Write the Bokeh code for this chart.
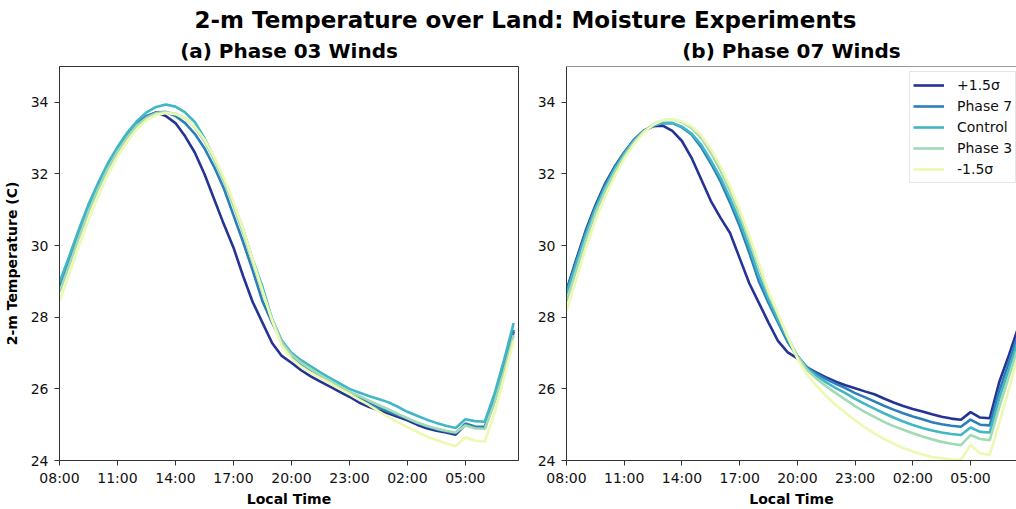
from bokeh.plotting import figure
from bokeh.layouts import column, row
from bokeh.models import Range1d, FixedTicker, Label, Legend, LegendItem, Span, Title
from bokeh.embed import file_html
from bokeh.resources import INLINE

FONT = "DejaVu Sans"

# time axis: hours since 08:00 local, half-hourly
hours = [i * 0.5 for i in range(48)]
tick_hours = [0, 3, 6, 9, 12, 15, 18, 21]
tick_labels = ["08:00", "11:00", "14:00", "17:00", "20:00", "23:00", "02:00", "05:00"]
y_ticks = [24, 26, 28, 30, 32, 34]

series_names = ["+1.5σ", "Phase 7", "Control", "Phase 3", "-1.5σ"]
colors = ["#253494", "#2c7fb8", "#41b6c4", "#a1dab4", "#edf8b1"]

# (a) Phase 03 winds
a_plus15 = [28.80, 29.55, 30.30, 31.00, 31.62, 32.18, 32.65, 33.05, 33.38, 33.60,
            33.72, 33.62, 33.42, 33.05, 32.60, 32.00, 31.30, 30.60, 29.95, 29.15,
            28.42, 27.85, 27.28, 26.92, 26.73, 26.52, 26.35, 26.20, 26.06, 25.92,
            25.78, 25.62, 25.50, 25.40, 25.32, 25.22, 25.12, 25.00, 24.90, 24.83,
            24.78, 24.72, 25.00, 24.92, 24.90, 25.65, 26.60, 27.60]
a_phase7 = [28.85, 29.62, 30.38, 31.08, 31.70, 32.25, 32.72, 33.10, 33.42, 33.62,
            33.72, 33.73, 33.62, 33.42, 33.12, 32.72, 32.20, 31.60, 30.85, 30.10,
            29.30, 28.45, 27.85, 27.30, 26.92, 26.70, 26.52, 26.36, 26.20, 26.04,
            25.90, 25.75, 25.60, 25.48, 25.37, 25.27, 25.17, 25.05, 24.95, 24.87,
            24.81, 24.76, 25.03, 24.95, 24.94, 25.70, 26.65, 27.65]
a_control = [28.97, 29.70, 30.45, 31.15, 31.75, 32.30, 32.75, 33.15, 33.47, 33.72,
             33.87, 33.94, 33.88, 33.72, 33.45, 33.00, 32.45, 31.85, 31.18, 30.45,
             29.60, 28.85, 27.95, 27.35, 27.01, 26.80, 26.63, 26.46, 26.30, 26.15,
             26.00, 25.90, 25.80, 25.72, 25.63, 25.50, 25.36, 25.25, 25.14, 25.05,
             24.97, 24.91, 25.15, 25.10, 25.08, 25.85, 26.80, 27.84]
a_phase3 = [28.70, 29.45, 30.22, 30.95, 31.58, 32.15, 32.62, 33.02, 33.35, 33.57,
            33.70, 33.73, 33.68, 33.55, 33.30, 32.92, 32.40, 31.80, 31.12, 30.35,
            29.52, 28.70, 27.95, 27.30, 26.95, 26.73, 26.55, 26.38, 26.22, 26.07,
            25.92, 25.80, 25.68, 25.55, 25.43, 25.30, 25.18, 25.06, 24.97, 24.89,
            24.83, 24.78, 24.98, 24.90, 24.88, 25.60, 26.50, 27.50]
a_minus15 = [28.45, 29.20, 29.98, 30.72, 31.38, 31.97, 32.48, 32.90, 33.25, 33.50,
             33.65, 33.70, 33.67, 33.55, 33.32, 32.97, 32.48, 31.90, 31.22, 30.45,
             29.60, 28.75, 27.90, 27.20, 26.85, 26.62, 26.45, 26.30, 26.15, 26.00,
             25.85, 25.70, 25.55, 25.38, 25.22, 25.07, 24.93, 24.80, 24.67, 24.57,
             24.48, 24.40, 24.65, 24.55, 24.53, 25.30, 26.30, 27.35]

# (b) Phase 07 winds
b_plus15 = [28.75, 29.60, 30.42, 31.12, 31.72, 32.20, 32.60, 32.95, 33.20, 33.33,
            33.35, 33.20, 32.92, 32.45, 31.85, 31.25, 30.78, 30.35, 29.65, 28.95,
            28.40, 27.85, 27.33, 27.02, 26.85, 26.60, 26.45, 26.32, 26.20, 26.10,
            26.02, 25.93, 25.85, 25.73, 25.62, 25.52, 25.44, 25.37, 25.29, 25.22,
            25.17, 25.14, 25.35, 25.20, 25.18, 26.20, 26.95, 27.75]
b_phase7 = [28.72, 29.55, 30.38, 31.08, 31.68, 32.18, 32.60, 32.95, 33.20, 33.35,
            33.42, 33.42, 33.30, 33.10, 32.75, 32.30, 31.80, 31.20, 30.55, 29.80,
            29.00, 28.40, 27.85, 27.30, 26.92, 26.60, 26.42, 26.27, 26.14, 26.02,
            25.88, 25.77, 25.65, 25.53, 25.42, 25.32, 25.23, 25.15, 25.07, 25.01,
            24.97, 24.94, 25.14, 25.00, 24.98, 25.95, 26.75, 27.55]
b_control = [28.65, 29.48, 30.30, 31.02, 31.62, 32.13, 32.56, 32.92, 33.18, 33.35,
             33.42, 33.42, 33.32, 33.13, 32.82, 32.38, 31.90, 31.32, 30.68, 29.95,
             29.15, 28.50, 27.92, 27.38, 26.92, 26.57, 26.36, 26.18, 26.02, 25.88,
             25.72, 25.58, 25.45, 25.32, 25.20, 25.09, 24.99, 24.91, 24.84, 24.78,
             24.74, 24.71, 24.92, 24.80, 24.78, 25.75, 26.55, 27.40]
b_phase3 = [28.45, 29.30, 30.15, 30.90, 31.52, 32.05, 32.50, 32.88, 33.18, 33.38,
            33.50, 33.52, 33.45, 33.28, 33.00, 32.60, 32.10, 31.52, 30.88, 30.15,
            29.40, 28.65, 28.05, 27.45, 26.92, 26.53, 26.28, 26.07, 25.88, 25.70,
            25.52, 25.36, 25.22, 25.08, 24.96, 24.86, 24.76, 24.67, 24.59, 24.52,
            24.47, 24.43, 24.71, 24.60, 24.57, 25.50, 26.35, 27.20]
b_minus15 = [28.18, 29.05, 29.92, 30.70, 31.36, 31.93, 32.42, 32.83, 33.15, 33.37,
             33.50, 33.52, 33.47, 33.33, 33.08, 32.70, 32.22, 31.65, 31.00, 30.28,
             29.50, 28.72, 28.10, 27.45, 26.85, 26.40, 26.08, 25.80, 25.55, 25.33,
             25.12, 24.93, 24.76, 24.60, 24.47, 24.35, 24.25, 24.17, 24.10, 24.06,
             24.03, 24.02, 24.43, 24.20, 24.16, 25.05, 26.00, 27.00]

panel_a = [a_plus15, a_phase7, a_control, a_phase3, a_minus15]
panel_b = [b_plus15, b_phase7, b_control, b_phase3, b_minus15]


def style(p, ylabel):
    p.xgrid.visible = False
    p.ygrid.visible = False
    p.xaxis.ticker = FixedTicker(ticks=tick_hours)
    p.xaxis.major_label_overrides = {h: lab for h, lab in zip(tick_hours, tick_labels)}
    p.yaxis.ticker = FixedTicker(ticks=y_ticks)
    p.xaxis.axis_label = "Local Time"
    if ylabel:
        p.yaxis.axis_label = ylabel
    for ax in (p.xaxis[0], p.yaxis[0]):
        ax.axis_line_color = "#333333"
        ax.major_tick_line_color = "#333333"
        ax.major_tick_out = 5
        ax.major_tick_in = 0
        ax.minor_tick_line_color = None
        ax.major_label_text_font = FONT
        ax.major_label_text_font_size = "14px"
        ax.major_label_text_color = "#111111"
        ax.axis_label_text_font = FONT
        ax.axis_label_text_font_size = "14px"
        ax.axis_label_text_font_style = "bold"
        ax.axis_label_text_color = "#000000"
    p.xaxis.major_label_standoff = 4
    p.xaxis.axis_label_standoff = 2
    p.yaxis.major_label_standoff = 6
    p.yaxis.axis_label_standoff = 8


def make_title(text, offset):
    return Title(text=text, align="center", text_font=FONT, text_font_size="20px",
                 text_font_style="bold", text_color="#000000", standoff=7, offset=offset)


# suptitle strip
p0 = figure(width=1016, height=33, x_range=Range1d(0, 1016), y_range=Range1d(0, 33),
            toolbar_location=None, output_backend="svg", min_border=0,
            x_axis_location=None, y_axis_location=None, title=None)
p0.outline_line_color = None
p0.xgrid.visible = False
p0.ygrid.visible = False
p0.add_layout(Label(x=525, y=13.5, text="2-m Temperature over Land: Moisture Experiments",
                    text_align="center", text_baseline="middle", text_font=FONT,
                    text_font_size="23px", text_font_style="bold", text_color="#000000"))

# panel (a)
p1 = figure(width=534, height=476, x_range=Range1d(0, 23.75), y_range=Range1d(24, 35),
            toolbar_location=None, output_backend="svg",
            title=make_title("(a) Phase 03 Winds", 0),
            min_border_left=59, min_border_right=16, min_border_top=33, min_border_bottom=45)
p1.outline_line_color = "#333333"
p1.outline_line_width = 1
style(p1, "2-m Temperature (C)")
for vals, col in zip(panel_a, colors):
    p1.line(hours, vals, line_color=col, line_width=2.6)

# panel (b)
p2 = figure(width=482, height=476, x_range=Range1d(0, 23.39), y_range=Range1d(24, 35),
            toolbar_location=None, output_backend="svg",
            title=make_title("(b) Phase 07 Winds", 4),
            min_border_left=30, min_border_right=0, min_border_top=33, min_border_bottom=45)
p2.outline_line_color = None
style(p2, None)
p2.add_layout(Span(location=35, dimension="width", line_color="#333333", line_width=1))
renderers = []
for vals, col in zip(panel_b, colors):
    renderers.append(p2.line(hours, vals, line_color=col, line_width=2.6))

legend = Legend(items=[LegendItem(label=n, renderers=[r]) for n, r in zip(series_names, renderers)],
                location=(343, 277), orientation="vertical",
                label_text_font=FONT, label_text_font_size="14px", label_text_color="#111111",
                glyph_width=31, glyph_height=20, label_height=20, spacing=1, padding=3,
                margin=0, label_standoff=13, border_line_color="#cccccc",
                border_line_width=1, background_fill_alpha=0.8)
p2.add_layout(legend)

layout = column(p0, row(p1, p2, spacing=0), spacing=0)
open("out.html", "w").write(file_html(layout, INLINE))
